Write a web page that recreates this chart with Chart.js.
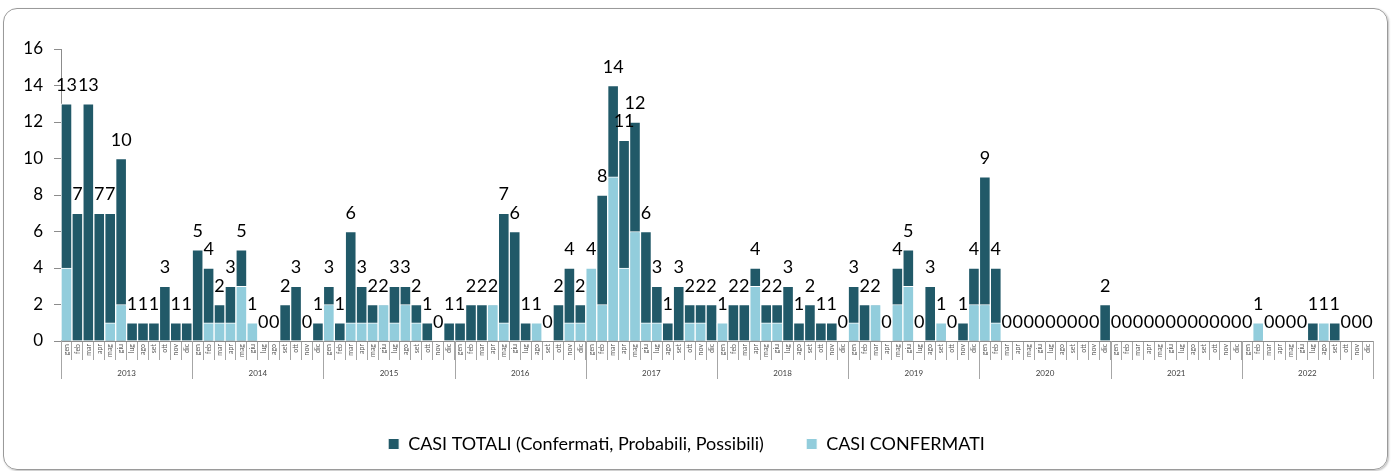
<!DOCTYPE html>
<html>
<head>
<meta charset="utf-8">
<script src="https://cdn.jsdelivr.net/npm/chart.js@4/dist/chart.umd.min.js"></script>
<style>
  html, body { margin: 0; padding: 0; background: #fff; }
  #wrap { position: relative; width: 1392px; height: 471px; }
  #frame { position: absolute; left: 3px; top: 8px; width: 1383px; height: 460px;
           border: 1px solid #9a9a9a; border-radius: 14px; box-shadow: 1px 1px 2px rgba(0,0,0,0.25); }
  #cv { position: absolute; left: 0; top: 0; }
</style>
</head>
<body>
<div id="wrap">
  <div id="frame"></div>
  <canvas id="cv" width="1392" height="471"></canvas>
</div>
<script>
const months = ['gen','feb','mar','apr','mag','giu','lug','ago','set','ott','nov','dic'];
const years = ['2013','2014','2015','2016','2017','2018','2019','2020','2021','2022'];

// casi totali (confermati, probabili, possibili) - un valore per mese
const totali = [
  13, 7,13, 7, 7,10, 1, 1, 1, 3, 1, 1,   // 2013
   5, 4, 2, 3, 5, 1, 0, 0, 2, 3, 0, 1,   // 2014
   3, 1, 6, 3, 2, 2, 3, 3, 2, 1, 0, 1,   // 2015
   1, 2, 2, 2, 7, 6, 1, 1, 0, 2, 4, 2,   // 2016
   4, 8,14,11,12, 6, 3, 1, 3, 2, 2, 2,   // 2017
   1, 2, 2, 4, 2, 2, 3, 1, 2, 1, 1, 0,   // 2018
   3, 2, 2, 0, 4, 5, 0, 3, 1, 0, 1, 4,   // 2019
   9, 4, 0, 0, 0, 0, 0, 0, 0, 0, 0, 2,   // 2020
   0, 0, 0, 0, 0, 0, 0, 0, 0, 0, 0, 0,   // 2021
   0, 1, 0, 0, 0, 0, 1, 1, 1, 0, 0, 0    // 2022
];
const confermati = [
   4, 0, 0, 0, 1, 2, 0, 0, 0, 0, 0, 0,
   0, 1, 1, 1, 3, 1, 0, 0, 0, 0, 0, 0,
   2, 0, 1, 1, 1, 2, 1, 2, 1, 0, 0, 0,
   0, 0, 0, 2, 1, 0, 0, 1, 0, 0, 1, 1,
   4, 2, 9, 4, 6, 1, 1, 0, 0, 1, 1, 0,
   1, 0, 0, 3, 1, 1, 0, 0, 0, 0, 0, 0,
   1, 0, 2, 0, 2, 3, 0, 0, 1, 0, 0, 2,
   2, 1, 0, 0, 0, 0, 0, 0, 0, 0, 0, 0,
   0, 0, 0, 0, 0, 0, 0, 0, 0, 0, 0, 0,
   0, 1, 0, 0, 0, 0, 0, 1, 0, 0, 0, 0
];
const yTicks = [0, 2, 4, 6, 8, 10, 12, 14, 16];

const labels = years.flatMap(() => months);

Chart.defaults.font.family = 'Lato, Calibri, sans-serif';
Chart.defaults.color = '#000';

// etichette valori sopra le barre dei totali
const valueLabels = {
  id: 'valueLabels',
  afterDatasetsDraw(chart) {
    const ctx = chart.ctx;
    const meta = chart.getDatasetMeta(0);
    ctx.save();
    ctx.font = '18px Lato, Calibri, sans-serif';
    ctx.fillStyle = '#000';
    ctx.textAlign = 'center';
    ctx.textBaseline = 'alphabetic';
    meta.data.forEach((bar, i) => {
      ctx.fillText(String(totali[i]), bar.x, bar.y - 13);
    });
    ctx.restore();
  }
};

// seconda riga dell'asse x: anni
const yearAxis = {
  id: 'yearAxis',
  afterDraw(chart) {
    const ctx = chart.ctx;
    const x = chart.scales.x;
    const w = (x.right - x.left) / labels.length;
    const y0 = x.top;
    ctx.save();
    ctx.strokeStyle = '#a6a6a6';
    ctx.lineWidth = 1;
    ctx.fillStyle = '#404040';
    ctx.font = '8px Lato, Calibri, sans-serif';
    ctx.textAlign = 'center';
    ctx.textBaseline = 'middle';
    for (let i = 0; i <= years.length; i++) {
      const xx = Math.round(x.left + i * 12 * w) + 0.5;
      ctx.beginPath();
      ctx.moveTo(xx, y0);
      ctx.lineTo(xx, y0 + 38);
      ctx.stroke();
      if (i < years.length) ctx.fillText(years[i], x.left + (i * 12 + 6) * w, y0 + 32);
    }
    ctx.restore();
  }
};

new Chart(document.getElementById('cv'), {
  type: 'bar',
  data: {
    labels: labels,
    datasets: [{
      label: 'CASI TOTALI (Confermati, Probabili, Possibili)',
      data: totali,
      backgroundColor: '#215968',
      borderColor: '#ffffff',
      borderWidth: 1,
      grouped: false,
      order: 1
    }, {
      label: 'CASI CONFERMATI',
      data: confermati,
      backgroundColor: '#92cddc',
      borderColor: '#ffffff',
      borderWidth: 1,
      grouped: false,
      order: 0
    }]
  },
  options: {
    responsive: false,
    animation: false,
    barPercentage: 1,
    categoryPercentage: 1,
    layout: { padding: { left: 0, top: 49, right: 19, bottom: 8 } },
    plugins: {
      tooltip: { enabled: false },
      legend: {
        position: 'bottom',
        labels: {
          boxWidth: 11,
          boxHeight: 11,
          padding: 10,
          font: { size: 18 },
          color: '#000',
          sort: (a, b) => a.datasetIndex - b.datasetIndex,
          generateLabels(chart) {
            const items = Chart.defaults.plugins.legend.labels.generateLabels(chart);
            items.forEach(it => { if (it.datasetIndex === 0) it.text += '       '; });
            return items;
          }
        }
      }
    },
    scales: {
      x: {
        afterFit(s) { s.height = 84; },
        grid: { offset: true, drawOnChartArea: false, tickLength: 19, color: '#a6a6a6' },
        border: { color: '#8c8c8c' },
        ticks: {
          autoSkip: false, minRotation: 90, maxRotation: 90,
          padding: -16,
          font: { size: 7 }, color: '#595959'
        }
      },
      y: {
        min: 0, max: 16,
        afterFit(s) { s.width = 61; },
        afterBuildTicks(s) { s.ticks = yTicks.map(v => ({ value: v })); },
        grid: { drawOnChartArea: false, tickLength: 7, color: '#8c8c8c' },
        border: { color: '#8c8c8c' },
        ticks: { padding: 11, font: { size: 17 }, color: '#000' }
      }
    }
  },
  plugins: [valueLabels, yearAxis]
});
</script>
</body>
</html>
